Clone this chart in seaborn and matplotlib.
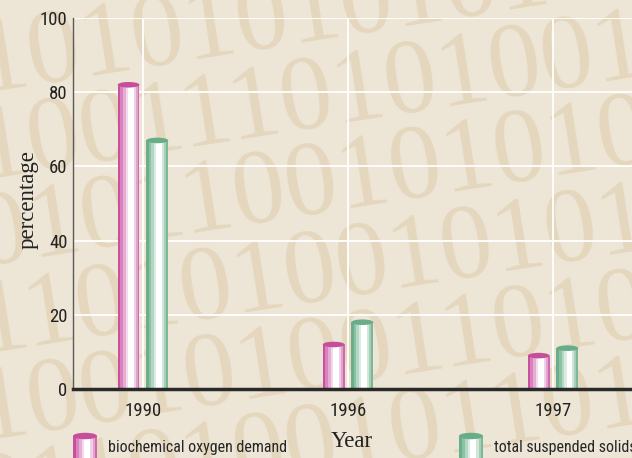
import matplotlib
matplotlib.use("Agg")
import matplotlib.pyplot as plt
from matplotlib.patches import Rectangle, Ellipse
from matplotlib.legend_handler import HandlerBase
import pandas as pd
import seaborn as sns

# ---- data -------------------------------------------------------------
years = ["1990", "1996", "1997"]
bod = [82, 12, 9]      # biochemical oxygen demand, %
tss = [67, 18, 11]     # total suspended solids, %
series = ["biochemical oxygen demand", "total suspended solids"]
y_ticks = [0, 20, 40, 60, 80, 100]

# decorative binary rows in the background
binary_rows = [
    "1010101010101",
    "100111010100101",
    "010110010101001",
    "110101001010100",
    "100101001101011",
    "011010010110101",
]

# ---- styling ----------------------------------------------------------
BG = "#ede5d6"
DIGIT = "#e5d7be"
STRIPE_EDGES = [0, 0.11, 0.23, 0.36, 0.46, 0.73, 0.82, 0.91, 1.0]
PINK = ["#c8509f", "#d983bd", "#e6acd3", "#f3d9ec", "#ffffff",
        "#f0d0e6", "#e2a2cd", "#cf6aae"]
GREEN = ["#6aae8a", "#8cc2a4", "#b3d7c2", "#d9ece1", "#ffffff",
         "#d0e6d9", "#a5cfb6", "#7cb898"]
CAPS = ["#c64f9c", "#68ac88"]
NARROW = ["Roboto Condensed", "Noto Sans Condensed", "Liberation Sans Narrow",
          "Noto Sans"]
SERIF = ["Liberation Serif", "DejaVu Serif"]

df = pd.DataFrame({
    "Year": years * 2,
    "value": bod + tss,
    "series": [series[0]] * len(years) + [series[1]] * len(years),
})

sns.set_style("white")
plt.rcParams["font.family"] = NARROW
plt.rcParams["font.stretch"] = "condensed"

fig = plt.figure(figsize=(6.32, 4.58), dpi=100, facecolor=BG)

# background binary digits
for i, row in enumerate(binary_rows):
    fig.text(-0.03, 0.80 - i * 0.19, row, fontsize=76, family=SERIF,
             stretch="normal", color=DIGIT, rotation=9,
             rotation_mode="anchor", ha="left", va="baseline", zorder=-1)

ax = fig.add_axes([73 / 632, 1 - 389 / 458, 1 - 73 / 632, 371 / 458])
ax.patch.set_alpha(0)

sns.barplot(data=df, x="Year", y="value", hue="series",
            palette=[PINK[0], GREEN[0]], width=0.28, gap=0.24,
            saturation=1, linewidth=0, legend=False, ax=ax, zorder=3)

cap_h = 1.5  # ellipse height in data units
for cont, stripes, cap in zip(ax.containers, [PINK, GREEN], CAPS):
    for bar in cont:
        x0, w, h = bar.get_x(), bar.get_width(), bar.get_height()
        for a, b, c in zip(STRIPE_EDGES[:-1], STRIPE_EDGES[1:], stripes):
            ax.add_patch(Rectangle((x0 + a * w, 0), (b - a) * w, h,
                                   facecolor=c, edgecolor="none", zorder=4))
        ax.add_patch(Ellipse((x0 + w / 2, h), w, cap_h, facecolor=cap,
                             edgecolor="none", zorder=5))

ax.set_xlim(-0.341, 2.385)
ax.set_ylim(0, 100)
ax.set_yticks(y_ticks)
ax.grid(True, color="white", linewidth=1.3, zorder=0)
ax.set_axisbelow(True)
for s in ("top", "right"):
    ax.spines[s].set_visible(False)
ax.spines["left"].set_color("#5a5a5a")
ax.spines["left"].set_linewidth(1.0)
ax.spines["bottom"].set_color("#2a2a2a")
ax.spines["bottom"].set_linewidth(2.5)
ax.spines["bottom"].set_zorder(6)
ax.tick_params(length=0, labelsize=13.5, labelcolor="#222222")
ax.tick_params(axis="x", pad=9)
ax.tick_params(axis="y", pad=4)

ax.set_xlabel("Year", family=SERIF, stretch="normal", fontsize=16.5,
              color="#222222")
ax.set_ylabel("percentage", family=SERIF, stretch="normal", fontsize=16.5,
              color="#222222")
ax.xaxis.set_label_coords(0.499, -0.113)
ax.yaxis.set_label_coords(-0.062, 0.51)


class CylinderHandler(HandlerBase):
    def __init__(self, stripes, cap):
        super().__init__()
        self.stripes = stripes
        self.cap = cap

    def create_artists(self, legend, orig_handle, xdescent, ydescent,
                       width, height, fontsize, trans):
        x0, y0 = -xdescent, -ydescent
        arts = []
        for a, b, c in zip(STRIPE_EDGES[:-1], STRIPE_EDGES[1:], self.stripes):
            arts.append(Rectangle((x0 + a * width, y0), (b - a) * width,
                                  height, facecolor=c, edgecolor="none",
                                  transform=trans))
        arts.append(Ellipse((x0 + width / 2, y0 + height), width,
                            height * 0.3, facecolor=self.cap,
                            edgecolor="none", transform=trans))
        return arts


anchors = [(73 / 632, 1 - 436 / 458), (459 / 632, 1 - 436 / 458)]
for cont, stripes, cap, label, anchor in zip(ax.containers, [PINK, GREEN],
                                             CAPS, series, anchors):
    h = cont[0]
    fig.legend(handles=[h], labels=[label],
               handler_map={h: CylinderHandler(stripes, cap)},
               loc="upper left", bbox_to_anchor=anchor, frameon=False,
               borderpad=0, borderaxespad=0, handlelength=1.5,
               handleheight=1.7, handletextpad=0.7,
               prop={"family": NARROW, "size": 11.5, "stretch": "condensed"})

fig.savefig("out.png", dpi=100, facecolor=BG)
